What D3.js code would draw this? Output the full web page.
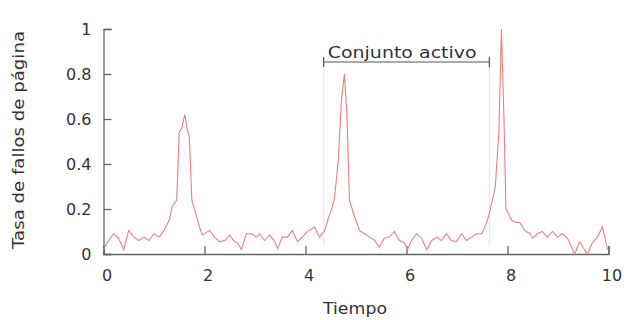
<!DOCTYPE html>
<html><head><meta charset="utf-8">
<script src="https://cdn.jsdelivr.net/npm/d3@7"></script>
<style>body{margin:0;background:#fff}svg{display:block}text{font-family:"DejaVu Sans",sans-serif;fill:#333}</style>
</head><body>
<script>
const tiempo = [
  0.0,0.1,0.2,0.3,0.4,0.5,0.6,0.7,0.8,0.9,1.0,1.1,1.2,1.3,
  1.36,1.45,1.5,1.55,1.61,1.66,1.7,1.75,1.9,1.96,
  2.1,2.2,2.3,2.4,2.5,2.59,2.65,2.73,2.83,2.93,3.03,3.09,3.19,3.29,3.39,3.45,3.54,3.64,3.74,3.84,3.94,
  4.04,4.08,4.18,4.28,4.38,4.44,4.51,4.57,4.65,4.71,4.77,4.82,4.87,4.95,
  5.07,5.17,5.27,5.37,5.46,5.56,5.66,5.76,5.86,5.96,
  6.02,6.1,6.2,6.3,6.4,6.5,6.6,6.69,6.79,6.89,6.99,7.09,7.19,7.29,7.39,7.49,7.58,7.64,7.7,
  7.76,7.83,7.88,7.93,7.97,8.02,
  8.08,8.18,8.24,8.34,8.44,8.5,8.59,8.69,8.79,8.89,8.99,9.09,9.19,9.27,9.33,9.43,9.52,9.58,9.68,9.78,9.88,9.98
];
const tasa = [
  0.02,0.06,0.09,0.07,0.02,0.105,0.075,0.06,0.075,0.06,0.09,0.075,0.105,0.15,
  0.21,0.24,0.54,0.56,0.62,0.55,0.52,0.24,0.12,0.085,
  0.105,0.075,0.055,0.06,0.085,0.055,0.05,0.02,0.09,0.09,0.075,0.09,0.06,0.085,0.055,0.025,0.075,0.075,0.105,0.055,0.075,
  0.1,0.105,0.12,0.075,0.105,0.15,0.195,0.24,0.42,0.68,0.80,0.62,0.24,0.18,
  0.105,0.09,0.075,0.06,0.03,0.07,0.075,0.1,0.06,0.05,
  0.02,0.06,0.09,0.07,0.02,0.06,0.075,0.06,0.09,0.06,0.055,0.09,0.06,0.075,0.09,0.09,0.135,0.18,0.24,
  0.3,0.55,1.0,0.6,0.2,0.18,
  0.15,0.14,0.14,0.105,0.09,0.07,0.09,0.1,0.075,0.1,0.075,0.09,0.07,0.03,0.0,0.055,0.02,0.0,0.05,0.075,0.12,0.02
];
const xTicks = [0, 2, 4, 6, 8, 10];
const yTicks = [0, 0.2, 0.4, 0.6, 0.8, 1];
const xLabel = "Tiempo";
const yLabel = "Tasa de fallos de página";
const annotText = "Conjunto activo";
const annotRange = [4.36, 7.64];

const W = 624, H = 320;
const svg = d3.select("body").append("svg").attr("width", W).attr("height", H);
const x = d3.scaleLinear().domain([0, 10]).range([103.5, 608.5]);
const y = d3.scaleLinear().domain([0, 1]).range([254, 29]);

// annotation guide lines
svg.selectAll("line.guide").data(annotRange).join("line")
  .attr("x1", d => x(d)).attr("x2", d => x(d))
  .attr("y1", 62).attr("y2", y(0.04))
  .attr("stroke", "#e4e4e4").attr("stroke-width", 1);

// axes
const xAxis = d3.axisBottom(x).tickValues(xTicks).tickSize(-8).tickPadding(16).tickFormat(d3.format("d"));
const yAxis = d3.axisLeft(y).tickValues(yTicks).tickSize(-8).tickPadding(12).tickFormat(d => d === 0 || d === 1 ? d3.format("d")(d) : d3.format(".1f")(d));

const gx = svg.append("g").attr("transform", `translate(0,${y(0)})`).call(xAxis);
const gy = svg.append("g").attr("transform", `translate(${x(0)},0)`).call(yAxis);
[gx, gy].forEach(g => {
  g.select(".domain").attr("stroke", "#666").attr("stroke-width", 1.3);
  g.selectAll(".tick line").attr("stroke", "#666").attr("stroke-width", 1.3);
  g.selectAll(".tick text").attr("font-size", 16).attr("fill", "#444").attr("font-family", "DejaVu Sans");
});
gx.selectAll(".tick text").attr("dx", 3);

// line
const line = d3.line().x((d, i) => x(tiempo[i])).y(d => y(d));
svg.append("path").datum(tasa).attr("d", line)
  .attr("fill", "none").attr("stroke", "#e98080").attr("stroke-width", 1.1);

// bracket annotation
const by = 62;
svg.append("line").attr("x1", x(annotRange[0])).attr("x2", x(annotRange[1]))
  .attr("y1", by).attr("y2", by).attr("stroke", "#555").attr("stroke-width", 1.2);
svg.selectAll("line.end").data(annotRange).join("line")
  .attr("x1", d => x(d)).attr("x2", d => x(d)).attr("y1", by - 5).attr("y2", by + 5)
  .attr("stroke", "#555").attr("stroke-width", 1.2);
svg.append("text").attr("x", x(annotRange[0]) + 4).attr("y", 58)
  .attr("font-size", 15.5).attr("textLength", 149).attr("lengthAdjust", "spacingAndGlyphs").text(annotText);

// axis titles
svg.append("text").attr("x", 355).attr("y", 314).attr("text-anchor", "middle")
  .attr("font-size", 15.5).attr("textLength", 64).attr("lengthAdjust", "spacingAndGlyphs").text(xLabel);
svg.append("text").attr("transform", "translate(24,140) rotate(-90)").attr("text-anchor", "middle")
  .attr("font-size", 15.5).attr("textLength", 218).attr("lengthAdjust", "spacingAndGlyphs").text(yLabel);
</script>
</body></html>
